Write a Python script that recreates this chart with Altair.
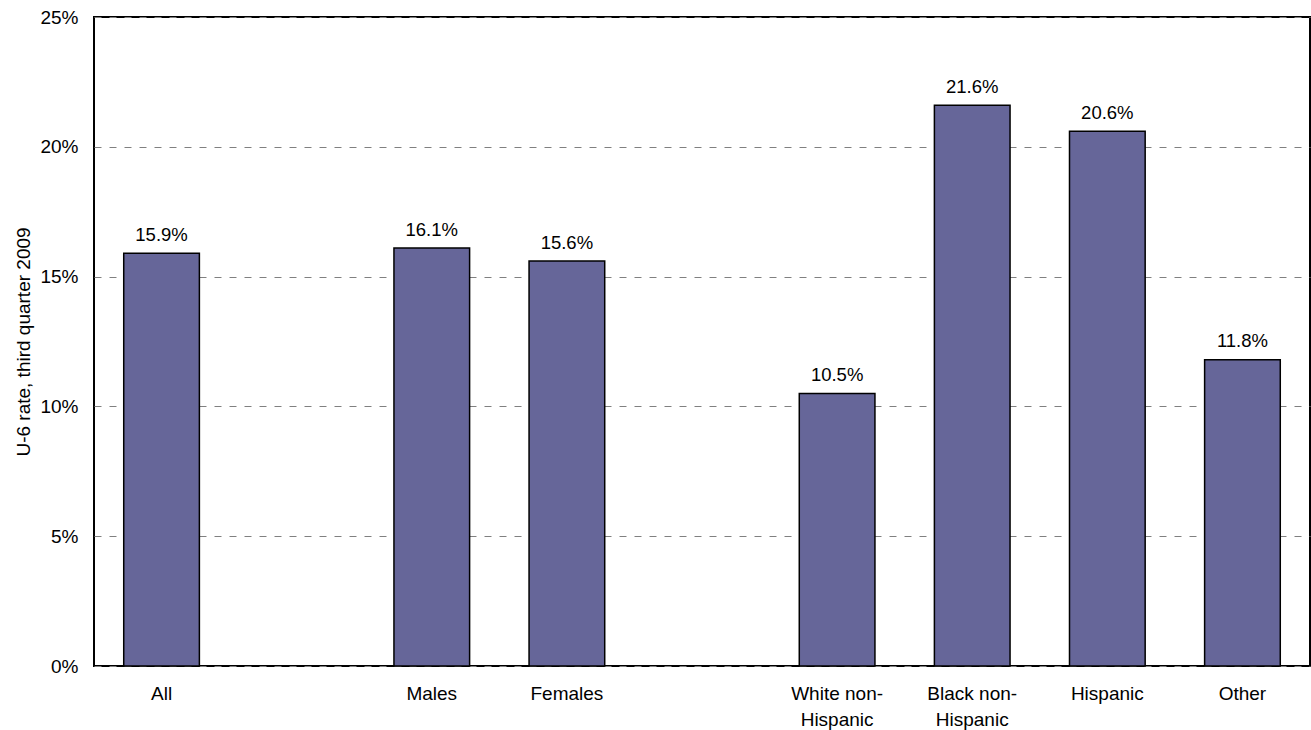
import altair as alt
import pandas as pd

# Category slots along the x axis; the two blank slots separate the groups
slots = ["All", " ", "Males", "Females", "  ",
         "White non-\nHispanic", "Black non-\nHispanic", "Hispanic", "Other"]
categories = ["All", "Males", "Females",
              "White non-\nHispanic", "Black non-\nHispanic", "Hispanic", "Other"]
rates = [15.9, 16.1, 15.6, 10.5, 21.6, 20.6, 11.8]
y_ticks = [0, 5, 10, 15, 20, 25]

df = pd.DataFrame({"group": categories, "rate": rates})

FONT = "Liberation Sans"
PLOT_W = 1216
PLOT_H = 649

x_scale = alt.Scale(domain=slots, paddingInner=0.44, paddingOuter=0.22)

x_enc = alt.X(
    "group:N",
    scale=x_scale,
    axis=alt.Axis(
        title=None,
        labelAngle=0,
        labelExpr="split(datum.label, '\\n')",
        labelFont=FONT,
        labelFontSize=19,
        labelColor="black",
        labelPadding=18,
        labelLineHeight=26,
        labelBaseline="top",
        ticks=False,
        domain=False,
        grid=False,
    ),
)

y_enc = alt.Y(
    "rate:Q",
    scale=alt.Scale(domain=[0, 25], nice=False, zero=True),
    axis=alt.Axis(
        title="U-6 rate, third quarter 2009",
        titleFont=FONT,
        titleFontSize=19,
        titleFontWeight="normal",
        titleColor="black",
        titleAngle=270,
        titleX=-71,
        titleY=PLOT_H / 2,
        titleAlign="center",
        titleBaseline="middle",
        values=y_ticks,
        labelExpr="datum.value + '%'",
        labelFont=FONT,
        labelFontSize=19,
        labelColor="black",
        labelPadding=16,
        ticks=False,
        domain=False,
        grid=True,
        gridColor="#808080",
        gridDash=[7, 8],
        gridWidth=1,
    ),
)

bars = alt.Chart(df).mark_bar(
    color="#666699", stroke="black", strokeWidth=1.5
).encode(x=x_enc, y=y_enc)

labels = alt.Chart(df).transform_calculate(
    txt="format(datum.rate, '.1f') + '%'"
).mark_text(
    font=FONT, fontSize=18.5, color="black", baseline="alphabetic", dy=-12.5
).encode(
    x=alt.X("group:N", scale=x_scale),
    y=alt.Y("rate:Q"),
    text="txt:N",
)

chart = alt.layer(bars, labels).properties(
    width=PLOT_W,
    height=PLOT_H,
    autosize=alt.AutoSizeParams(type="none"),
    padding={"left": 94, "top": 17, "right": 1, "bottom": 64},
    background="white",
).configure_view(
    stroke="black", strokeWidth=2
)

chart.save("out.html", embed_options={"renderer": "svg", "actions": False})
